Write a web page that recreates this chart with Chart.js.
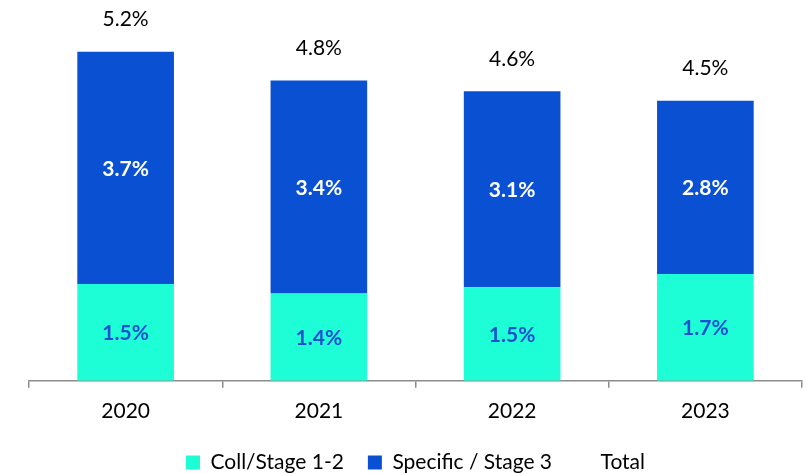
<!DOCTYPE html>
<html>
<head>
<meta charset="utf-8">
<script src="https://cdn.jsdelivr.net/npm/chart.js@4"></script>
<style>
  html, body { margin: 0; padding: 0; background: #fff; }
  #wrap { width: 807px; height: 474px; }
</style>
</head>
<body>
<div id="wrap"><canvas id="chart" width="807" height="474"></canvas></div>
<script>
// ── DATA ────────────────────────────────────────────────────
const years    = ['2020', '2021', '2022', '2023'];
const collVals = [1.54, 1.39, 1.49, 1.70];   // Coll/Stage 1-2
const specVals = [3.70, 3.39, 3.12, 2.76];   // Specific / Stage 3
const totals   = [5.24, 4.78, 4.61, 4.46];   // Total

const TEAL = '#1DFDD6';
const BLUE = '#0A50D2';
const FONT = 'Lato, "Open Sans", sans-serif';

// ── LABELS PLUGIN ───────────────────────────────────────────
const barLabels = {
  id: 'barLabels',
  afterDatasetsDraw(chart) {
    const c = chart.ctx;
    c.save();
    c.textAlign = 'center';
    c.textBaseline = 'middle';

    // inside segment labels
    [[0, '#1F4FD1'], [1, '#ffffff']].forEach(([di, color]) => {
      const meta = chart.getDatasetMeta(di);
      c.font = 'bold 21px ' + FONT;
      c.fillStyle = color;
      meta.data.forEach((bar, i) => {
        const v = chart.data.datasets[di].data[i];
        const mid = (bar.y + bar.base) / 2;
        c.fillText(v.toFixed(1) + '%', bar.x, mid + 1);
      });
    });

    // totals above bars
    const top = chart.getDatasetMeta(1);
    c.font = '21px ' + FONT;
    c.fillStyle = '#000';
    top.data.forEach((bar, i) => {
      c.fillText(totals[i].toFixed(1) + '%', bar.x, bar.y - 32);
    });
    c.restore();
  }
};

new Chart(document.getElementById('chart'), {
  type: 'bar',
  data: {
    labels: years,
    datasets: [
      { label: 'Coll/Stage 1-2', data: collVals, backgroundColor: TEAL, stack: 'a' },
      { label: 'Specific / Stage 3', data: specVals, backgroundColor: BLUE, stack: 'a' },
      { label: 'Total', type: 'line', data: totals, stack: 'total',
        showLine: false, pointRadius: 0, backgroundColor: 'transparent', borderColor: 'transparent' }
    ]
  },
  options: {
    responsive: false,
    animation: false,
    layout: { padding: { top: 4, left: 29, right: 5, bottom: -9 } },
    datasets: { bar: { categoryPercentage: 1.0, barPercentage: 0.5 } },
    plugins: {
      legend: {
        position: 'bottom',
        labels: {
          boxWidth: 14, boxHeight: 14, padding: 24,
          color: '#000', font: { family: FONT, size: 21 }
        }
      },
      tooltip: { enabled: false }
    },
    scales: {
      x: {
        stacked: true,
        border: { color: '#8c8c8c', width: 1.5 },
        grid: { offset: true, drawOnChartArea: false, drawTicks: true, tickLength: 7, color: '#8c8c8c', lineWidth: 1.5 },
        ticks: { color: '#000', font: { family: FONT, size: 21 }, padding: 11 },
        afterFit: s => { s.height -= 7; }
      },
      y: {
        stacked: true, display: false, min: 0, max: 6
      }
    }
  },
  plugins: [barLabels]
});
</script>
</body>
</html>
